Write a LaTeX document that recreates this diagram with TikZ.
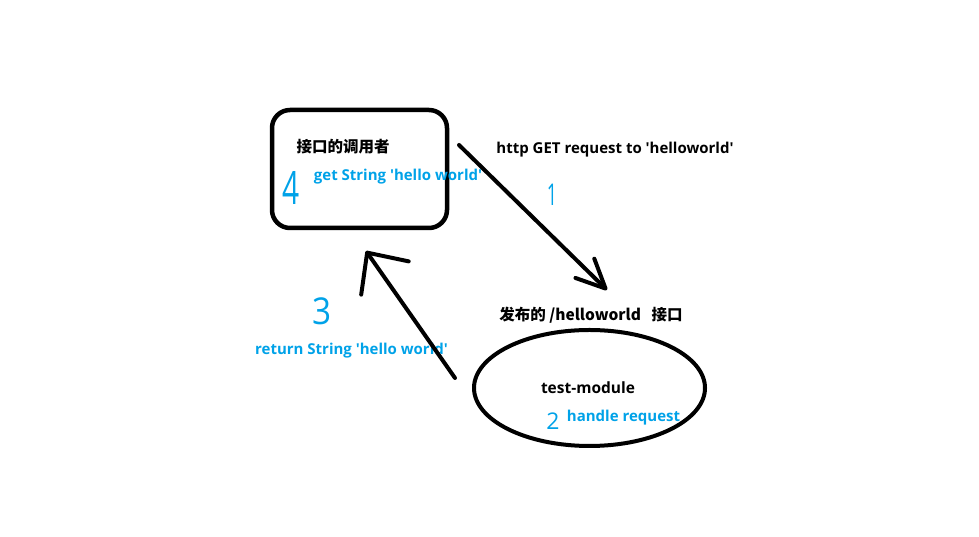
\documentclass[tikz,border=0pt]{standalone}
\usepackage{fontspec}
\setmainfont{Open Sans}
\newfontfamily\cjkfont{Noto Sans CJK SC}
\usetikzlibrary{arrows.meta,shapes.geometric}
\definecolor{paintblue}{HTML}{00A2E8}

\begin{document}
\begin{tikzpicture}[x=1pt,y=1pt,
    lbl/.style={font=\bfseries\fontsize{15}{17}\selectfont,inner sep=0pt},
    cjklbl/.style={font=\cjkfont\bfseries\fontsize{15.5}{17}\selectfont,inner sep=0pt},
    bluelbl/.style={lbl,text=paintblue},
    digit/.style={text=paintblue,inner sep=0pt},
    callbox/.style={draw,line width=4.5pt,rounded corners=18pt,minimum width=175pt,minimum height=118pt},
    modblob/.style={draw,ellipse,line width=4pt,minimum width=231pt,minimum height=116pt},
    arrow/.style={-{Straight Barb[round,length=29pt,width=27pt]},line width=4pt,line cap=round},
    backarrow/.style={-{Straight Barb[round,length=31pt,width=58pt]},line width=4pt,line cap=round}
  ]
    \useasboundingbox (0,0) rectangle (979,537);
    % caller box
    \node[callbox] (caller) at (359.5,368) {};
    \node[cjklbl] (callertitle) at (343,390) {接口的调用者};
    \node[digit,font=\fontsize{46}{46}\selectfont,xscale=0.65] (step4) at (291,349) {4};
    \node[bluelbl] (gotit) at (398,360) {get String \textquotesingle hello world\textquotesingle};

    % request
    \node[lbl] (reqlbl) at (615,387) {http GET request to \textquotesingle helloworld\textquotesingle};
    \node[digit,font=\fontsize{30}{30}\selectfont,xscale=0.6] (step1) at (552,342) {1};
    \coordinate (reqfrom) at (459,392);
    \coordinate (reqto) at (607,247);
    \draw[arrow] (reqfrom) -- (reqto);

    % module
    \node[cjklbl] (apilbl) at (591,222) {发布的 /helloworld\ \ \ 接口};
    \node[modblob] (module) at (589.5,149) {};
    \node[lbl,font=\bfseries\fontsize{15.5}{17}\selectfont] (modname) at (588,149) {test-module};
    \node[digit,font=\fontsize{23}{23}\selectfont] (step2) at (553,116) {2};
    \node[bluelbl] (handle) at (623.5,119) {handle request};

    % response
    \node[digit,font=\fontsize{37}{37}\selectfont,xscale=0.9] (step3) at (322,226) {3};
    \node[bluelbl] (retlbl) at (351.5,186) {return String \textquotesingle hello world\textquotesingle};
    \coordinate (retfrom) at (455,159);
    \coordinate (retto) at (366,286);
    \draw[backarrow] (retfrom) -- (retto);
  \end{tikzpicture}
\end{document}
